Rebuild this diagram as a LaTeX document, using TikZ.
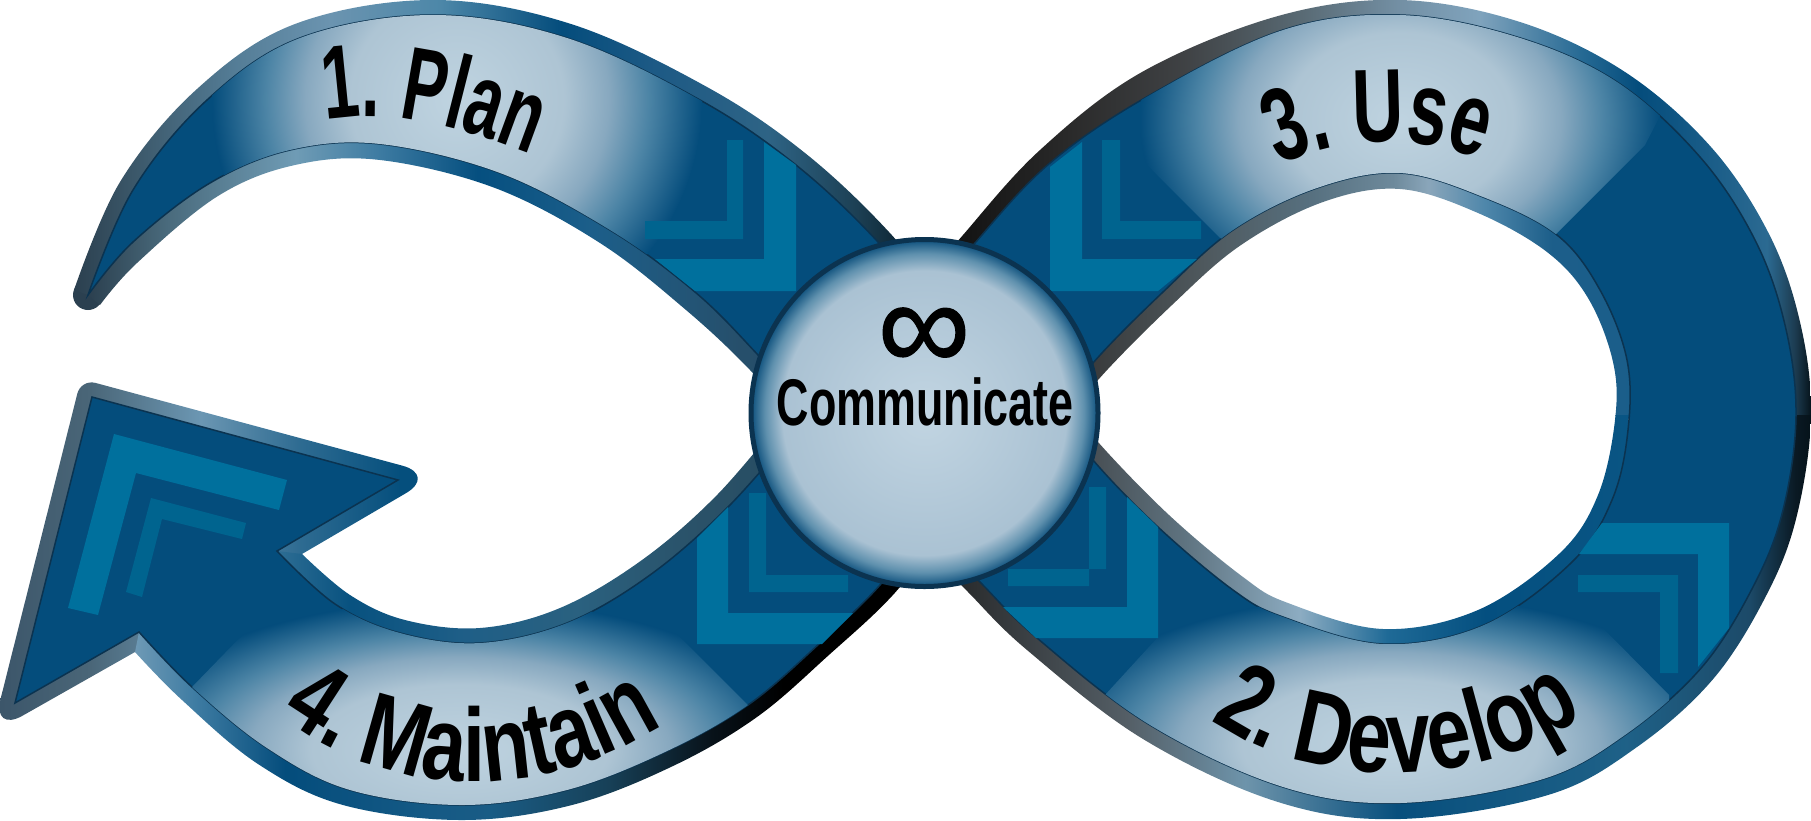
\documentclass[tikz,border=0pt]{standalone}
\usepackage{fontspec}
\usetikzlibrary{decorations.text}
\newfontfamily\labelfamily[FakeStretch=0.68]{Liberation Sans Bold}
\newfontfamily\narrowfamily[FakeStretch=0.63]{Liberation Sans Bold}
\newfontfamily\widefamily[FakeStretch=0.76]{Liberation Sans Bold}
\newfontfamily\inftyfamily[FakeBold=1]{Liberation Sans}
\newcommand{\labelfont}{\labelfamily\fontsize{104}{110}\selectfont}
\newcommand{\narrowfont}{\narrowfamily\fontsize{104}{110}\selectfont}
\newcommand{\widefont}{\widefamily\fontsize{104}{110}\selectfont}
\definecolor{bodyblue}{HTML}{044D7C}
\definecolor{edgeblue}{HTML}{0B3350}
\definecolor{chevbig}{HTML}{00709D}
\definecolor{chevsmall}{HTML}{00648F}
\definecolor{tipslate}{HTML}{2B4050}
\pgfdeclareradialshading{panelshade}{\pgfpoint{0bp}{0bp}}{rgb(0bp)=(.75,.83,.88); rgb(11bp)=(.68,.77,.83); rgb(15.5bp)=(.53,.66,.75); rgb(19.5bp)=(.30,.52,.65); rgb(25bp)=(.016,.30,.486); rgb(50bp)=(.016,.30,.486)}
\pgfdeclareradialshading{hubshade}{\pgfpoint{0bp}{0bp}}{rgb(0bp)=(.76,.835,.886); rgb(20.5bp)=(.667,.76,.827); rgb(23bp)=(.37,.565,.68); rgb(25bp)=(.047,.31,.486); rgb(50bp)=(.047,.31,.486)}
\pgfdeclarehorizontalshading{rimTLout}{100bp}{rgb(0bp)=(.17,.25,.31); rgb(25bp)=(.17,.25,.31); rgb(28.3bp)=(.23,.34,.41); rgb(34.2bp)=(.33,.49,.59); rgb(39.6bp)=(.42,.58,.69); rgb(45.9bp)=(.30,.53,.66); rgb(52.8bp)=(.016,.30,.486); rgb(57.8bp)=(.11,.35,.52); rgb(64.6bp)=(.18,.39,.52); rgb(69.6bp)=(.11,.25,.33); rgb(72.3bp)=(.05,.145,.2); rgb(100bp)=(.04,.10,.14)}
\pgfdeclarehorizontalshading{rimTLin}{100bp}{rgb(0bp)=(.17,.25,.31); rgb(25bp)=(.17,.25,.31); rgb(30.5bp)=(.29,.42,.49); rgb(39.2bp)=(.435,.61,.71); rgb(44.6bp)=(.25,.49,.64); rgb(51.6bp)=(.02,.31,.5); rgb(59.4bp)=(.11,.37,.54); rgb(69.5bp)=(.15,.31,.42); rgb(100bp)=(.12,.235,.31)}
\pgfdeclarehorizontalshading{rimBLout}{100bp}{rgb(0bp)=(.43,.60,.71); rgb(25bp)=(.43,.60,.71); rgb(28.6bp)=(.25,.49,.64); rgb(34.3bp)=(.016,.30,.486); rgb(42.7bp)=(.08,.35,.52); rgb(47bp)=(.10,.36,.52); rgb(54.3bp)=(.09,.25,.34); rgb(60.6bp)=(.03,.07,.1); rgb(65bp)=(0,0,0); rgb(100bp)=(0,0,0)}
\pgfdeclarehorizontalshading{rimBLin}{100bp}{rgb(0bp)=(.18,.43,.58); rgb(25bp)=(.18,.43,.58); rgb(32bp)=(.03,.32,.5); rgb(42.8bp)=(.12,.37,.53); rgb(53.8bp)=(.165,.38,.5); rgb(64.9bp)=(.165,.32,.41); rgb(100bp)=(.11,.24,.31)}
\pgfdeclarehorizontalshading{rimRupout}{100bp}{rgb(0bp)=(.04,.04,.04); rgb(25bp)=(.04,.04,.04); rgb(33.5bp)=(.165,.165,.165); rgb(40bp)=(.25,.26,.27); rgb(46.6bp)=(.35,.42,.46); rgb(51.8bp)=(.45,.56,.64); rgb(56.4bp)=(.5,.64,.74); rgb(62.1bp)=(.15,.415,.58); rgb(65.3bp)=(.016,.30,.486); rgb(72.5bp)=(.17,.415,.57); rgb(74.1bp)=(.11,.23,.31); rgb(75bp)=(.02,.07,.1); rgb(100bp)=(.02,.07,.1)}
\pgfdeclarehorizontalshading{rimRlowout}{100bp}{rgb(0bp)=(.12,.12,.12); rgb(25bp)=(.12,.12,.12); rgb(36.7bp)=(.33,.37,.4); rgb(43.3bp)=(.43,.58,.67); rgb(51.8bp)=(.03,.31,.49); rgb(64.6bp)=(.12,.38,.53); rgb(71.5bp)=(.11,.29,.41); rgb(74.1bp)=(.04,.10,.14); rgb(75bp)=(.02,.07,.1); rgb(100bp)=(.02,.07,.1)}
\pgfdeclarehorizontalshading{rimRupin}{100bp}{rgb(0bp)=(.2,.2,.2); rgb(25bp)=(.2,.2,.2); rgb(37.8bp)=(.31,.35,.37); rgb(47bp)=(.34,.44,.5); rgb(54.2bp)=(.43,.54,.61); rgb(57.2bp)=(.54,.65,.73); rgb(62.1bp)=(.31,.53,.67); rgb(68bp)=(.11,.37,.54); rgb(100bp)=(.08,.36,.54)}
\pgfdeclarehorizontalshading{rimRlowin}{100bp}{rgb(0bp)=(.25,.26,.27); rgb(25bp)=(.25,.26,.27); rgb(35.8bp)=(.37,.45,.5); rgb(46bp)=(.55,.675,.76); rgb(53.7bp)=(.12,.415,.59); rgb(62.3bp)=(.016,.31,.5); rgb(100bp)=(.08,.38,.55)}
\pgfdeclarehorizontalshading{rimArrow}{100bp}{rgb(0bp)=(.23,.33,.41); rgb(25bp)=(.23,.33,.41); rgb(36bp)=(.29,.40,.47); rgb(48.4bp)=(.42,.59,.7); rgb(59.6bp)=(.18,.42,.57); rgb(70.8bp)=(.02,.31,.49); rgb(100bp)=(.02,.31,.49)}
\newcommand{\bodyTL}{plot coordinates {(88,295) (133,190) (207,100) (300,38) (433,15) (567,38) (700,100) (796,165) (878,242) (940,320)} -- plot coordinates {(820,425) (758,355) (695,292) (610,230) (500,173) (380,144) (290,150) (210,183) (133,242) (88,295)} -- cycle}
\newcommand{\bodyBL}{(15,703) -- (92,397) -- (398,480) -- plot coordinates {(277,551) (335,604) (400,633) (480,643) (567,623) (650,575) (728,507) (800,425)} -- plot coordinates {(930,520) (880,585) (820,643) (748,705) (665,752) (567,790) (462,805) (350,790) (267,748) (192,687) (139,632)} -- cycle}
\newcommand{\bodyRing}{plot coordinates {(930,300) (975,243) (1050,163) (1150,95) (1283,30) (1400,15) (1517,37) (1617,82) (1700,157) (1755,240) (1785,325) (1796,415) (1783,510) (1754,585) (1702,667) (1625,735) (1540,780) (1400,803) (1283,787) (1150,725) (1037,638) (980,582) (930,530)} -- cycle plot coordinates {(1060,412) (1093,363) (1163,292) (1233,230) (1317,188) (1400,173) (1483,197) (1557,235) (1600,290) (1627,360) (1628,430) (1612,500) (1572,562) (1484,625) (1383,644) (1283,617) (1233,590) (1158,527) (1093,460) (1060,412)} -- cycle}
\tikzset{
	every plot/.style={smooth, tension=.6},
	bodyline/.style={fill=bodyblue, draw=edgeblue, line width=1.5pt, even odd rule},
	labelpath/.style={decorate, decoration={text along path, text align=center}},
}
\begin{document}
\begin{tikzpicture}[x=1pt, y=-1pt]
	\useasboundingbox (0,0) rectangle (1811,820);
	\shade[shading=rimArrow, rounded corners=20pt] (135,652) [rounded corners=35pt] -- (-8,733) [rounded corners=15pt] -- (81,379) [rounded corners=36pt] -- (437,475) [sharp corners] -- (302,554) -- cycle;
	\fill[tipslate] (88,295) circle [radius=15];
	\shade[shading=rimTLout] plot coordinates {(74,290) (120,182) (197,89) (295,24) (433,0) (571,24) (707,87) (805,153) (889,232) (951,310)} -- plot coordinates {(940,320) (878,242) (796,165) (700,100) (567,38) (433,15) (300,38) (207,100) (133,190) (88,295)} -- cycle;
	\shade[shading=rimTLin] plot coordinates {(100,305) (137,263) (218,196) (295,165) (380,160) (495,188) (600,243) (686,310) (750,370) (808,436)} -- plot coordinates {(820,425) (758,355) (695,292) (610,230) (500,173) (380,144) (290,150) (210,183) (133,242) (88,295)} -- cycle;
	\shade[shading=rimBLout] plot coordinates {(135,652) (182,700) (258,764) (343,805) (462,820) (572,805) (673,766) (757,717) (830,654) (892,596) (945,530)} -- plot coordinates {(930,520) (880,585) (820,643) (748,705) (665,752) (567,790) (462,805) (350,790) (267,748) (192,687) (139,632)} -- cycle;
	\shade[shading=rimBLin] plot coordinates {(302,554) (350,595) (405,620) (480,628) (560,608) (642,560) (717,495) (785,415)} -- plot coordinates {(800,425) (728,507) (650,575) (567,623) (480,643) (400,633) (335,604) (277,551)} -- cycle;
	\begin{scope}
		\clip (900,-5) rectangle (1820,415);
		\shade[shading=rimRupout] plot coordinates {(918,290) (963,235) (1040,150) (1142,72) (1278,16) (1400,0) (1520,22) (1625,72) (1711,147) (1769,234) (1800,322) (1811,415) (1797,515)} -- plot coordinates {(1783,510) (1796,415) (1785,325) (1755,240) (1700,157) (1617,82) (1517,37) (1400,15) (1283,30) (1150,95) (1050,163) (975,243) (930,300)} -- cycle;
		\shade[shading=rimRupin] plot coordinates {(1060,432) (1098,380) (1172,305) (1241,245) (1323,202) (1400,189) (1478,213) (1547,252) (1588,298) (1613,362) (1615,420) (1598,495)} -- plot coordinates {(1612,500) (1628,430) (1627,360) (1600,290) (1557,235) (1483,197) (1400,173) (1317,188) (1233,230) (1163,292) (1093,363) (1060,412)} -- cycle;
	\end{scope}
	\begin{scope}
		\clip (900,415) rectangle (1820,825);
		\shade[shading=rimRlowout] plot coordinates {(1800,322) (1811,415) (1797,515) (1768,592) (1714,678) (1637,747) (1548,795) (1400,819) (1278,802) (1143,739) (1027,650) (968,592) (918,540)} -- plot coordinates {(930,530) (980,582) (1037,638) (1150,725) (1283,787) (1400,803) (1540,780) (1625,735) (1702,667) (1754,585) (1783,510) (1796,415) (1785,325)} -- cycle;
		\shade[shading=rimRlowin] plot coordinates {(1613,362) (1615,420) (1598,495) (1560,553) (1478,610) (1383,629) (1288,603) (1243,577) (1169,515) (1098,442) (1060,392)} -- plot coordinates {(1060,412) (1093,460) (1158,527) (1233,590) (1283,617) (1383,644) (1484,625) (1572,562) (1612,500) (1628,430) (1627,360)} -- cycle;
	\end{scope}
	\filldraw[bodyline] \bodyTL;
	\filldraw[bodyline] \bodyBL;
	\filldraw[bodyline] \bodyRing;
	\begin{scope}
		\clip \bodyTL;
		\shade[shading=panelshade] (457,100) circle [radius=245];
	\end{scope}
	\begin{scope}[even odd rule]
		\clip \bodyRing;
		\clip (1220,238) -- (1120,138) -- (1120,0) -- (1720,0) -- (1645,145) -- (1555,235) -- (1400,320) -- cycle;
		\shade[shading=panelshade] (1400,120) ellipse [x radius=260, y radius=200];
	\end{scope}
	\begin{scope}
		\clip \bodyBL;
		\clip (192,687) -- (257,620) -- (320,540) -- (600,540) -- (650,607) -- (748,705) -- (748,820) -- (192,820) -- cycle;
		\shade[shading=panelshade] (460,750) ellipse [x radius=340, y radius=150];
	\end{scope}
	\begin{scope}[even odd rule]
		\clip \bodyRing;
		\clip (1105,695) -- (1180,613) -- (1240,540) -- (1530,540) -- (1588,613) -- (1669,695) -- (1669,820) -- (1105,820) -- cycle;
		\shade[shading=panelshade] (1390,745) ellipse [x radius=340, y radius=150];
	\end{scope}
	\fill[chevbig] (764,142) -- (796,165) -- (796,291) -- (695,291) -- (655,259) -- (764,259) -- cycle;
	\fill[chevsmall] (727,140) -- (743,140) -- (743,239) -- (645,239) -- (645,221) -- (727,221) -- cycle;
	\fill[chevbig] (1082,142) -- (1050,167) -- (1050,291) -- (1158,291) -- (1197,259) -- (1082,259) -- cycle;
	\fill[chevsmall] (1102,140) -- (1120,140) -- (1120,221) -- (1201,221) -- (1201,239) -- (1102,239) -- cycle;
	\fill[chevbig] (728,507) -- (697,538) -- (697,644) -- (822,644) -- (853,613) -- (728,613) -- cycle;
	\fill[chevsmall] (749,493) -- (766,493) -- (766,575) -- (848,575) -- (848,592) -- (749,592) -- cycle;
	\fill[chevbig] (1127,497) -- (1158,527) -- (1158,638) -- (1036,638) -- (1003,607) -- (1127,607) -- cycle;
	\fill[chevsmall] (1089,487) -- (1106,487) -- (1106,569) -- (1008,569) -- (1008,586) -- (1089,586) -- cycle;
	\fill[chevbig] (1602,523) -- (1729,523) -- (1729,628) -- (1698,667) -- (1698,554) -- (1579,554) -- cycle;
	\fill[chevsmall] (1578,575) -- (1678,575) -- (1678,673) -- (1660,673) -- (1660,592) -- (1578,592) -- cycle;
	\fill[chevbig] (114,434) -- (287,480) -- (279,510) -- (136,473) -- (98,615) -- (68,608) -- cycle;
	\fill[chevsmall] (151,498) -- (246,523) -- (242,539) -- (162,519) -- (142,597) -- (126,592) -- cycle;
	\path[labelpath, decoration={text={|\narrowfont|1. Plan}}] (315,122) .. controls (388,105) and (463,127) .. (541,158);
	\path[labelpath, decoration={text={|\labelfont|3. Use}}] (1265,172) .. controls (1340,133) and (1420,133) .. (1495,165);
	\path[labelpath, decoration={text={|\widefont|4. Maintain}}] (262,702) .. controls (390,810) and (555,803) .. (682,712);
	\path[labelpath, decoration={text={|\widefont|2. Develop}}] (1195,708) .. controls (1310,800) and (1490,790) .. (1600,705);
	\node[circle, minimum size=347pt, inner sep=0pt, shading=hubshade, draw=edgeblue, line width=5pt] (hub) at (924.5,413) {};
	\node[inner sep=0pt, anchor=base] (comm) at (925,425) {\labelfamily\fontsize{66}{70}\selectfont Communicate};
	\node[inner sep=0pt] (infty) at (924,339) {\inftyfamily\fontsize{130}{135}\selectfont ∞};
\end{tikzpicture}
\end{document}
